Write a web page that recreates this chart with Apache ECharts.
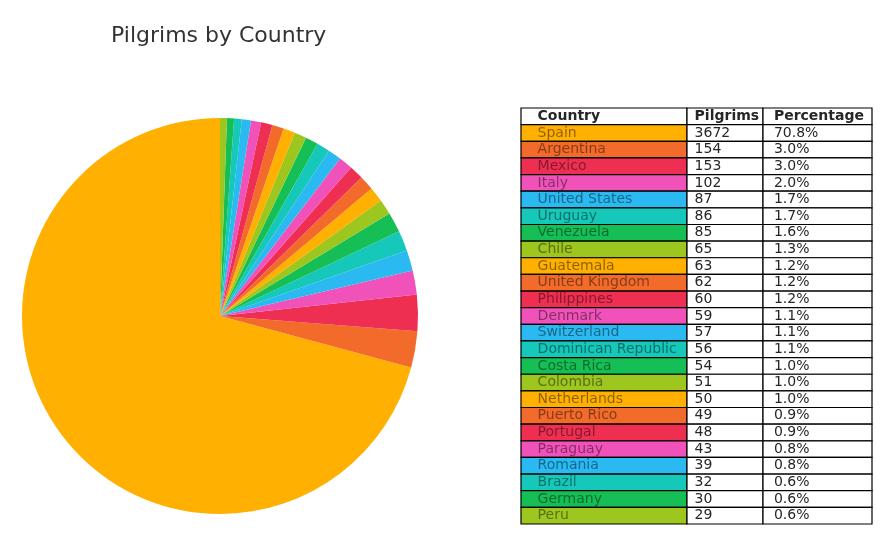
<!DOCTYPE html>
<html>
<head>
<meta charset="utf-8">
<script src="https://cdn.jsdelivr.net/npm/echarts@6/dist/echarts.min.js"></script>
<style>
    html, body {margin: 0; padding: 0; background: #fff;}
    #app {width: 892px; height: 546px;}
</style>
</head>
<body>
<div id="app"></div>
<script>
// 数据
let countries = ["Spain", "Argentina", "Mexico", "Italy", "United States", "Uruguay", "Venezuela", "Chile",
    "Guatemala", "United Kingdom", "Philippines", "Denmark", "Switzerland", "Dominican Republic", "Costa Rica",
    "Colombia", "Netherlands", "Puerto Rico", "Portugal", "Paraguay", "Romania", "Brazil", "Germany", "Peru"];
let pilgrims = [3672, 154, 153, 102, 87, 86, 85, 65, 63, 62, 60, 59, 57, 56, 54, 51, 50, 49, 48, 43, 39, 32, 30, 29];
let percentages = ["70.8%", "3.0%", "3.0%", "2.0%", "1.7%", "1.7%", "1.6%", "1.3%", "1.2%", "1.2%", "1.2%", "1.1%",
    "1.1%", "1.1%", "1.0%", "1.0%", "1.0%", "0.9%", "0.9%", "0.8%", "0.8%", "0.6%", "0.6%", "0.6%"];
let headers = ["Country", "Pilgrims", "Percentage"];

// 颜色循环
let palette = ["#FFB000", "#F26B2B", "#EF2F52", "#F052BA", "#2BB9F2", "#15C8BA", "#16BF55", "#9DC61F"];
let colorOf = (i) => palette[i % palette.length];

let myChart = echarts.init(document.querySelector("#app"));

// 表格列边界（像素宽度）
let colEdges = [0, 166, 242, 351];
let font = "DejaVu Sans";

// 表格行：0 是表头
let rows = [headers].concat(countries.map((c, i) => [c, String(pilgrims[i]), percentages[i]]));

myChart.setOption({
    title: {
        text: "Pilgrims by Country",
        left: 106,
        top: 20,
        textStyle: {
            fontFamily: font,
            fontSize: 22,
            fontWeight: "normal",
            color: "#333"
        }
    },
    grid: {
        left: 521,
        top: 108,
        width: 351,
        height: 416
    },
    xAxis: {
        type: "value",
        min: 0,
        max: 351,
        show: false
    },
    yAxis: {
        type: "category",
        inverse: true,
        data: rows.map((r, i) => i),
        show: false
    },
    series: [
        {
            name: "Pilgrims",
            type: "pie",
            center: [220, 316],
            radius: 198,
            startAngle: 90,
            clockwise: false,
            label: {show: false},
            labelLine: {show: false},
            silent: true,
            itemStyle: {borderWidth: 0},
            data: countries.map((c, i) => ({
                name: c,
                value: pilgrims[i],
                itemStyle: {color: colorOf(i)}
            }))
        },
        {
            name: "table",
            type: "custom",
            silent: true,
            data: rows.map((r, i) => [0, i]),
            renderItem: (params, api) => {
                let i = api.value(1);
                let y = api.coord([0, i])[1];
                let h = api.size([0, 1])[1];
                let children = [];
                for (let c = 0; c < 3; c++) {
                    let x0 = api.coord([colEdges[c], i])[0];
                    let x1 = api.coord([colEdges[c + 1], i])[0];
                    let w = x1 - x0;
                    let isHead = i === 0;
                    let fill = (!isHead && c === 0) ? colorOf(i - 1) : "#fff";
                    children.push({
                        type: "rect",
                        shape: {x: x0, y: y - h / 2, width: w, height: h},
                        style: {fill: fill, stroke: "#000", lineWidth: 1.2}
                    });
                    children.push({
                        type: "text",
                        x: x0 + w * 0.1,
                        y: y,
                        style: {
                            text: rows[i][c],
                            fontFamily: font,
                            fontSize: 14,
                            fontWeight: isHead ? "bold" : "normal",
                            fill: (!isHead && c === 0) ? "rgba(0,0,0,0.45)" : "#262626",
                            verticalAlign: "middle",
                            align: "left"
                        }
                    });
                }
                return {type: "group", children: children};
            }
        }
    ]
});
</script>
</body>
</html>
